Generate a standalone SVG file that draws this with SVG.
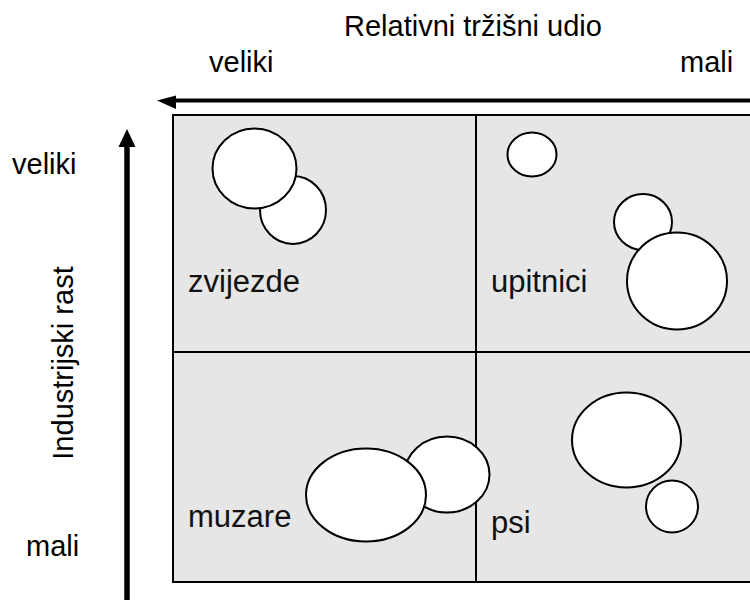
<svg xmlns="http://www.w3.org/2000/svg" width="750" height="600" viewBox="0 0 750 600">
  <style>
    .quad { fill: #e6e6e6; stroke: #000; stroke-width: 2; }
    .bub { fill: #fff; stroke: #000; stroke-width: 2; }
    .lbl { font-family: "Liberation Sans", Arial, sans-serif; font-size: 29px; fill: #000; }
    .qlbl { font-family: "Liberation Sans", Arial, sans-serif; font-size: 31px; fill: #111; }
  </style>
  <rect x="0" y="0" width="750" height="600" fill="#fff"/>

  <g id="quadrant-zvijezde">
    <rect class="quad" x="173" y="115" width="303" height="237"/>
    <ellipse class="bub" cx="293" cy="210" rx="33" ry="34"/>
    <ellipse class="bub" cx="254.5" cy="168.5" rx="42" ry="40"/>
    <text class="qlbl" x="188" y="292">zvijezde</text>
  </g>

  <g id="quadrant-upitnici">
    <rect class="quad" x="476" y="115" width="303" height="237"/>
    <ellipse class="bub" cx="532" cy="154.5" rx="24.5" ry="22"/>
    <ellipse class="bub" cx="643" cy="222" rx="29" ry="28"/>
    <ellipse class="bub" cx="677" cy="281" rx="50" ry="48.5"/>
    <text class="qlbl" x="491" y="292">upitnici</text>
  </g>

  <g id="quadrant-muzare">
    <rect class="quad" x="173" y="352" width="303" height="230"/>
    <text class="qlbl" x="188" y="527">muzare</text>
  </g>

  <g id="quadrant-psi">
    <rect class="quad" x="476" y="352" width="303" height="230"/>
    <ellipse class="bub" cx="626.5" cy="440" rx="54.5" ry="47.5"/>
    <ellipse class="bub" cx="672" cy="506.5" rx="26" ry="26"/>
    <text class="qlbl" x="491" y="533">psi</text>
  </g>

  <g id="muzare-bubbles">
    <ellipse class="bub" cx="447" cy="474.5" rx="42.5" ry="38"/>
    <ellipse class="bub" cx="366" cy="495" rx="60" ry="46.5"/>
  </g>

  <g id="connectors">
    <line x1="760" y1="100.5" x2="174" y2="100.5" stroke="#000" stroke-width="4"/>
    <polygon points="157,100.5 176,95.5 176,109" fill="#000"/>
    <line x1="127" y1="610" x2="127" y2="145" stroke="#000" stroke-width="5.5"/>
    <polygon points="127,129 118.5,147 135.5,147" fill="#000"/>
  </g>

  <g id="axis-labels">
    <text class="lbl" x="344" y="36">Relativni tržišni udio</text>
    <text class="lbl" x="209" y="72">veliki</text>
    <text class="lbl" x="680" y="72">mali</text>
    <text class="lbl" x="12" y="174">veliki</text>
    <text class="lbl" x="26" y="556">mali</text>
    <text class="lbl" text-anchor="middle" transform="translate(73,363) rotate(-90)">Industrijski rast</text>
  </g>
</svg>
